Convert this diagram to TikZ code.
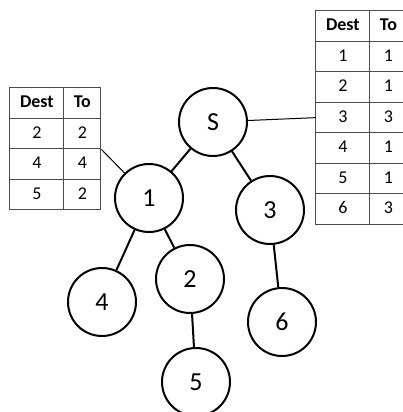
\documentclass[tikz,border=0pt]{standalone}
\usepackage{fontspec}
\setmainfont{Carlito}
\usetikzlibrary{matrix}

\begin{document}
\begin{tikzpicture}[x=0.5pt, y=-0.5pt,
	vertex/.style={circle, draw, line width=1pt, minimum size=34pt, inner sep=0pt, font=\fontsize{13}{15}\selectfont},
	edge/.style={line width=1pt},
	pointer/.style={line width=0.5pt},
	routes/.style={matrix of nodes, anchor=north west, inner sep=0pt, column sep=-0.5pt, row sep=-0.5pt,
		nodes={draw=black!70, line width=0.5pt, text height=6.5pt, text depth=2pt, inner xsep=0pt, inner ysep=3.375pt, font=\fontsize{9}{11}\selectfont},
		column 1/.style={nodes={minimum width=27pt}},
		column 2/.style={nodes={minimum width=18.5pt}},
		row 1/.style={nodes={font=\fontsize{9}{11}\selectfont\bfseries}}}]
	\useasboundingbox (0,0) rectangle (402,412);

	% the tree
	\node[vertex] (s) at (213, 122) {S};
	\node[vertex] (1) at (149, 198) {1};
	\node[vertex] (3) at (270, 210) {3};
	\node[vertex] (4) at (102, 302) {4};
	\node[vertex] (2) at (190, 279) {2};
	\node[vertex] (6) at (282, 322) {6};
	\node[vertex] (5) at (196, 382) {5};

	\draw[edge] (s) -- (1);
	\draw[edge] (s) -- (3);
	\draw[edge] (1) -- (4);
	\draw[edge] (1) -- (2);
	\draw[edge] (2) -- (5);
	\draw[edge] (3) -- (6);

	% routing tables
	\matrix[routes] (left) at (9, 87) {
		Dest & To \\
		2 & 2 \\
		4 & 4 \\
		5 & 2 \\
	};
	\matrix[routes] (right) at (315, 10) {
		Dest & To \\
		1 & 1 \\
		2 & 1 \\
		3 & 3 \\
		4 & 1 \\
		5 & 1 \\
		6 & 3 \\
	};

	\draw[pointer] (left-2-2.south east) -- (1);
	\draw[pointer] (s) -- (right-4-1.west);
\end{tikzpicture}
\end{document}
